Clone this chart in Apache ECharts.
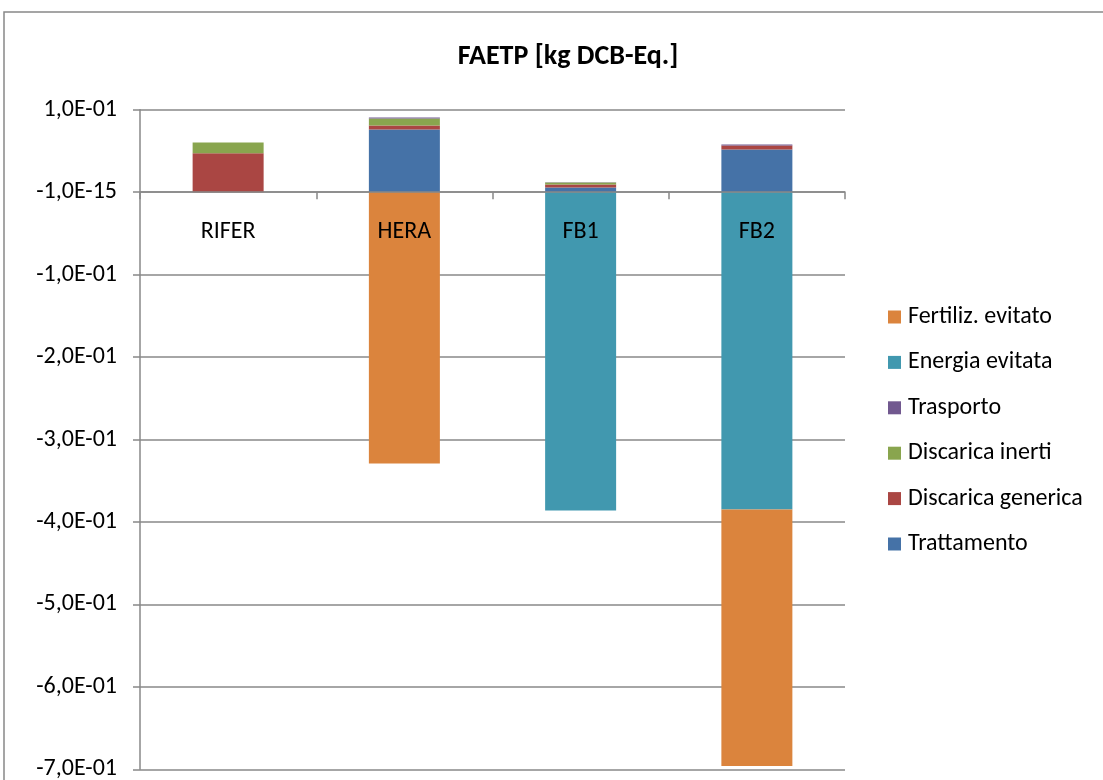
<!DOCTYPE html>
<html><head><meta charset="utf-8">
<script src="https://cdn.jsdelivr.net/npm/echarts@6/dist/echarts.min.js"></script>
<style>html,body{margin:0;padding:0;background:#fff}#c{width:1103px;height:780px}</style>
</head><body><div id="c"></div>
<script>
const categories = ['RIFER', 'HERA', 'FB1', 'FB2'];
const trattamento = [0, 0.076, 0.0057, 0.0518];
const discaricaGenerica = [0.0473, 0.0049, 0.0036, 0.0049];
const discaricaInerti = [0.013, 0.0085, 0.0024, 0];
const trasporto = [0, 0.0012, 0.0004, 0.0012];
const energiaEvitata = [0, 0, -0.386, -0.385];
const fertilizEvitato = [0, -0.329, 0, -0.311];
const seriesNames = ['Trattamento', 'Discarica generica', 'Discarica inerti', 'Trasporto', 'Energia evitata', 'Fertiliz. evitato'];
const legendOrder = ['Fertiliz. evitato', 'Energia evitata', 'Trasporto', 'Discarica inerti', 'Discarica generica', 'Trattamento'];
const colors = ['#4572A7', '#AA4643', '#89A54E', '#71588F', '#4198AF', '#DB843D'];
const seriesData = [trattamento, discaricaGenerica, discaricaInerti, trasporto, energiaEvitata, fertilizEvitato];
const yMin = -0.7, yMax = 0.1;

const font = "Carlito, 'Liberation Sans', sans-serif";
function fmt(v) {
  if (Math.abs(v) < 1e-9) return '-1,0E-15';
  const s = v < 0 ? '-' : '';
  const a = Math.abs(v);
  const e = Math.floor(Math.log10(a) + 1e-9);
  const m = a / Math.pow(10, e);
  const es = (e < 0 ? '-' : '+') + String(Math.abs(e)).padStart(2, '0');
  return s + m.toFixed(1).replace('.', ',') + 'E' + es;
}

const gridTop = 109.7, gridBottom = 10.7, H = 780;
const plotH = H - gridTop - gridBottom;
const zeroOffset = plotH * (0 - yMin) / (yMax - yMin);

const chart = echarts.init(document.getElementById('c'));
chart.setOption({
  animation: false,
  backgroundColor: '#fff',
  title: {
    text: 'FAETP [kg DCB-Eq.]', left: 563, top: 38, textAlign: 'center',
    textStyle: { fontFamily: font, fontSize: 28, fontWeight: 'bold', color: '#000' }
  },
  graphic: [{ type: 'rect', shape: { x: 4, y: 12, width: 1200, height: 900 }, style: { fill: 'none', stroke: '#888', lineWidth: 1.5 }, silent: true, z: -1 }],
  legend: {
    orient: 'vertical', left: 883, top: 300, itemGap: 21.4, itemWidth: 13, itemHeight: 13,
    data: legendOrder, icon: 'rect',
    textStyle: { fontFamily: font, fontSize: 24, color: '#000', padding: [0, 0, 0, 2] }
  },
  grid: { left: 140, right: 258, top: gridTop, bottom: gridBottom, outerBoundsMode: 'none', containLabel: false },
  xAxis: [{
    type: 'category', data: categories, z: 10,
    axisLine: { onZero: true, lineStyle: { color: '#888', width: 1.5 } },
    axisTick: { show: true, length: 7, inside: false, lineStyle: { color: '#888', width: 1.5 } },
    axisLabel: { show: false }
  }, {
    type: 'category', data: categories, position: 'bottom', offset: -zeroOffset, z: 10,
    axisLine: { show: false, onZero: false }, axisTick: { show: false },
    axisLabel: { fontFamily: font, fontSize: 24, color: '#000', margin: 28 }
  }],
  yAxis: {
    type: 'value', min: yMin, max: yMax, interval: 0.1,
    axisLine: { show: true, onZero: false, lineStyle: { color: '#888', width: 1.5 } },
    axisTick: { show: true, length: 7, lineStyle: { color: '#888', width: 1.5 } },
    splitLine: { show: true, lineStyle: { color: '#888', width: 1.5 } },
    axisLabel: { fontFamily: font, fontSize: 24, color: '#000', margin: 23, formatter: fmt }
  },
  series: seriesNames.map((n, i) => ({
    name: n, type: 'bar', stack: 'tot', barWidth: 71, xAxisIndex: 0,
    itemStyle: { color: colors[i] },
    data: seriesData[i]
  }))
});
</script></body></html>
